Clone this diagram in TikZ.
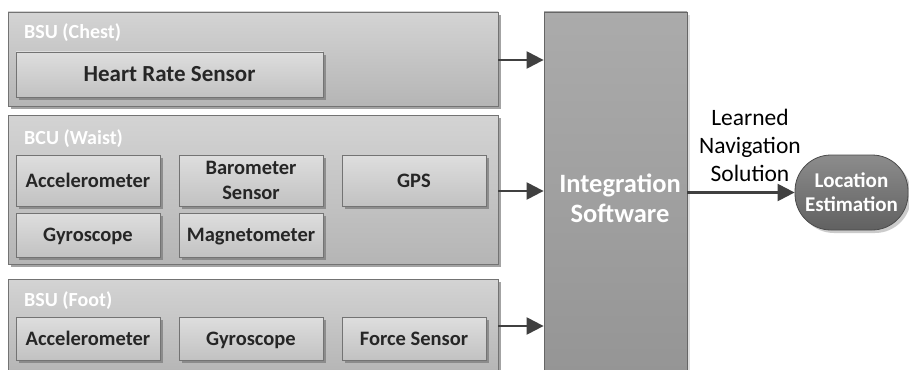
\documentclass[tikz,border=0pt]{standalone}
\usepackage{fontspec}
\setmainfont{Carlito}
\usetikzlibrary{shadows,arrows.meta}
\definecolor{txt}{HTML}{262626}
\definecolor{arr}{HTML}{404040}
\begin{document}
\begin{tikzpicture}[x=1pt,y=-1pt,
  outerbox/.style={draw=gray!90!black,line width=0.8pt,top color=black!17,bottom color=black!29,
     drop shadow={shadow xshift=3pt,shadow yshift=-3pt,fill=black!45,opacity=0.8},inner sep=0pt},
  inbox/.style={draw=gray!90!black,line width=0.8pt,top color=black!13,bottom color=black!24,
     drop shadow={shadow xshift=3pt,shadow yshift=-3pt,fill=black!50,opacity=0.8},
     font=\bfseries\fontsize{20.5}{25}\selectfont,text=txt,align=center,inner sep=0pt},
  oneline/.style={text height=13.2pt,text depth=0pt},
  boxlabel/.style={anchor=west,text=white,font=\bfseries\fontsize{20}{22}\selectfont,inner sep=0pt},
  integ/.style={draw=gray!80!black,line width=0.8pt,top color=black!33,bottom color=black!42,
     drop shadow={shadow xshift=3pt,shadow yshift=-3pt,fill=black!25},inner sep=0pt},
  inttxt/.style={text=white,font=\bfseries\fontsize{26.5}{30}\selectfont,align=center,inner sep=0pt},
  locbox/.style={draw=black!70,line width=0.8pt,rounded corners=36pt,top color=black!45,bottom color=black!62,
     drop shadow={shadow xshift=3pt,shadow yshift=-3pt,fill=black!40},
     text=white,font=\bfseries\fontsize{21}{24}\selectfont,align=center,inner sep=0pt},
  conn/.style={draw=arr,line width=2.2pt,-{Triangle[length=17pt,width=17pt]}}
]
\useasboundingbox (0,0) rectangle (909,369);
\clip (0,0) rectangle (909,369);
\fill[white] (0,0) rectangle (909,369);
% outer boxes
\node[outerbox,minimum width=490,minimum height=94] (chest) at (253,59) {};
\node[outerbox,minimum width=490,minimum height=149] (waist) at (253,189.5) {};
\node[outerbox,minimum width=490,minimum height=94] (foot) at (253,326) {};
\node[boxlabel] (lchest) at (24,33) {BSU (Chest)};
\node[boxlabel] (lwaist) at (24,139) {BCU (Waist)};
\node[boxlabel] (lfoot) at (24,301) {BSU (Foot)};
% inner boxes
\node[inbox,oneline,text height=14.8pt,minimum width=307,minimum height=45,font=\bfseries\fontsize{23}{25}\selectfont] (hr) at (169.5,74.5) {Heart Rate Sensor};
\node[inbox,oneline,minimum width=144,minimum height=51] (acc1) at (88,180.5) {Accelerometer};
\node[inbox,minimum width=144,minimum height=51] (baro) at (251,180.5) {Barometer\\Sensor};
\node[inbox,oneline,minimum width=144,minimum height=51] (gps) at (414,180.5) {GPS};
\node[inbox,oneline,minimum width=144,minimum height=44] (gyr1) at (88,235) {Gyroscope};
\node[inbox,oneline,minimum width=144,minimum height=44] (mag) at (251,235) {Magnetometer};
\node[inbox,oneline,minimum width=144,minimum height=43] (acc2) at (88,338.5) {Accelerometer};
\node[inbox,oneline,minimum width=144,minimum height=43] (gyr2) at (251,338.5) {Gyroscope};
\node[inbox,oneline,minimum width=144,minimum height=43] (force) at (414,338.5) {Force Sensor};
% integration
\node[integ,minimum width=143,minimum height=380] (int) at (615.5,202) {};
\node[inttxt] (inttext) at (620,198) {Integration\\Software};
% location
\node[locbox,minimum width=113,minimum height=75] (loc) at (851.5,192.5) {Location\\Estimation};
% arrows
\draw[conn] (chest.east |- 0,60) -- (int.west |- 0,60);
\draw[conn] (waist.east |- 0,191) -- (int.west |- 0,191);
\draw[conn] (foot.east) -- (foot.east -| int.west);
\draw[conn] (int.east |- loc.west) -- (loc.west);
\node[text=black,font=\fontsize{23.5}{28}\selectfont,align=center,inner sep=0pt] (lbl) at (750,145) {Learned\\Navigation\\Solution};
\end{tikzpicture}
\end{document}
